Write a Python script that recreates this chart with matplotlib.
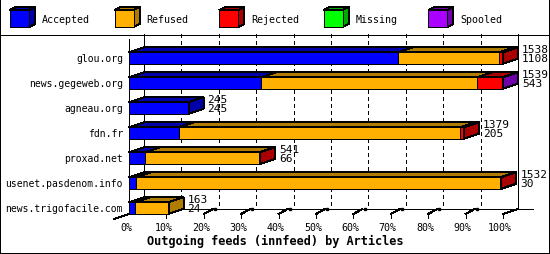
import matplotlib
matplotlib.use('Agg')
import matplotlib.pyplot as plt
from matplotlib.patches import Polygon, Rectangle
from matplotlib.transforms import offset_copy

# data (articles per outgoing feed)
feeds = ['glou.org', 'news.gegeweb.org', 'agneau.org', 'fdn.fr',
         'proxad.net', 'usenet.pasdenom.info', 'news.trigofacile.com']
accepted = [1108, 543, 245, 205, 66, 30, 24]
refused = [414, 890, 0, 1158, 469, 1498, 139]
rejected = [16, 105, 0, 16, 6, 4, 0]
missing = [0, 0, 0, 0, 0, 0, 0]
spooled = [0, 1, 0, 0, 0, 0, 0]
totals = [1538, 1539, 245, 1379, 541, 1532, 163]

series = ['Accepted', 'Refused', 'Rejected', 'Missing', 'Spooled']
front_colors = ['#0000ff', '#ffb000', '#ff0000', '#00ff00', '#aa00ff']
dark_colors = ['#0000aa', '#b07c00', '#aa0000', '#00aa00', '#7000aa']
pct_ticks = [0, 10, 20, 30, 40, 50, 60, 70, 80, 90, 100]

plt.rcParams['font.family'] = ['DejaVu Sans Mono']
plt.rcParams['lines.antialiased'] = False
plt.rcParams['patch.antialiased'] = False

W, H = 550, 255
LW = 0.72  # one pixel
fig = plt.figure(figsize=(W / 100, H / 100), dpi=100)
# outer frame: half of a 2px edge stays inside the canvas
fig.patch.set_edgecolor('k')
fig.patch.set_linewidth(2 * LW)

# background axes in pixels: legend separator
bg = fig.add_axes([0, 0, 1, 1])
bg.set_xlim(0, W)
bg.set_ylim(H, 0)
bg.axis('off')
bg.plot([0, W], [35.5, 35.5], color='k', lw=LW)

# legend row with little cubes
lax = fig.add_axes([0, 1 - 35 / H, 1, 35 / H])
lax.set_xlim(0, W)
lax.set_ylim(35, 0)
lax.axis('off')
for j, name in enumerate(series):
    x0 = 10 + 104.6 * j
    cw, ch, cd, cu = 19, 17, 6, 3
    y0 = 11
    lax.add_patch(Polygon([(x0, y0), (x0 + cd, y0 - cu), (x0 + cw + cd, y0 - cu), (x0 + cw, y0)],
                          fc=dark_colors[j], ec='k', lw=LW))
    lax.add_patch(Polygon([(x0 + cw, y0), (x0 + cw + cd, y0 - cu), (x0 + cw + cd, y0 + ch - cu), (x0 + cw, y0 + ch)],
                          fc=dark_colors[j], ec='k', lw=LW))
    lax.add_patch(Rectangle((x0, y0), cw, ch, fc=front_colors[j], ec='k', lw=LW))
    lax.text(x0 + 32, 20, name, ha='left', va='center', fontsize=7.2)

# main plot area: front plane 129..503 px, rows 35..215 px
ax = fig.add_axes([129 / W, (H - 215) / H, 374 / W, 180 / H])
ax.axis('off')
xmax = max(totals)
ax.set_xlim(0, xmax)
top, bottom = -0.96, 6.24
ax.set_ylim(bottom, top)

dx = 15 / 374 * xmax   # depth offset to the right
dy = 0.2               # depth offset upwards (in rows)
bh = 0.46
floor_front, floor_back = bottom, bottom - dy
kw = dict(color='k', lw=LW, clip_on=False, zorder=1)

# back wall
ax.plot([dx, dx], [top, floor_back], **kw)
ax.plot([xmax + dx, xmax + dx], [top, floor_back], **kw)
for p in pct_ticks[1:-1]:
    gx = p / 100 * xmax + dx
    ax.plot([gx, gx], [top, floor_back], color='k', lw=LW, ls=(0, (4, 3)), clip_on=False, zorder=1)
ax.plot([0, 0], [top + dy, floor_front], **kw)

# floor
ax.plot([dx, xmax + 2 * dx], [floor_back, floor_back], **kw)
ax.plot([-dx, dx], [floor_front + dy, floor_back], **kw)
ax.plot([xmax, xmax + dx], [floor_front, floor_back], **kw)
trans_lbl = offset_copy(ax.transData, fig, x=-3, y=0, units='dots')
for p in pct_ticks:
    tx = p / 100 * xmax
    if 0 < p < 100:
        ax.plot([tx, tx], [floor_front, floor_front + 0.16], **kw)
        ax.plot([tx, tx + 0.6 * dx], [floor_front, floor_back], **kw)
        ax.plot([tx + 0.75 * dx], [floor_back], 's', color='k', ms=2, clip_on=False, zorder=1)
    if p == 100:
        ax.plot([tx, tx], [floor_front, floor_front + 0.16], **kw)
    ax.text(tx, floor_front + 0.52, f'{p}%', ha='center', va='center', fontsize=7.2,
            transform=trans_lbl)

# bars
values = [accepted, refused, rejected, missing, spooled]
trans_val = offset_copy(ax.transData, fig, x=4, y=0, units='dots')
trans_name = offset_copy(ax.transData, fig, x=-6, y=0, units='dots')
for i, feed in enumerate(feeds):
    y_t, y_b = i - bh / 2, i + bh / 2
    left = 0
    last = 0
    for s in range(len(series)):
        v = values[s][i]
        if v <= 0:
            continue
        ax.add_patch(Rectangle((left, y_t), v, bh, fc=front_colors[s], ec='k', lw=LW,
                               clip_on=False, zorder=3))
        ax.add_patch(Polygon([(left, y_t), (left + dx, y_t - dy), (left + v + dx, y_t - dy), (left + v, y_t)],
                             fc=dark_colors[s], ec='k', lw=LW, clip_on=False, zorder=3))
        left += v
        last = s
    ax.add_patch(Polygon([(left, y_t), (left + dx, y_t - dy), (left + dx, y_b - dy), (left, y_b)],
                         fc=dark_colors[last], ec='k', lw=LW, clip_on=False, zorder=3))
    ax.text(left + dx, i - 0.36, str(totals[i]), ha='left', va='center', fontsize=8,
            transform=trans_val, zorder=4)
    ax.text(left + dx, i, str(accepted[i]), ha='left', va='center', fontsize=8,
            transform=trans_val, zorder=4)
    ax.text(0, i, feed, ha='right', va='center', fontsize=7.0, transform=trans_name)

fig.text(0.5, 1 - 241 / H, 'Outgoing feeds (innfeed) by Articles', ha='center', va='center',
         fontsize=8.6, fontweight='bold')

fig.savefig('out.png', dpi=100, edgecolor='k')
